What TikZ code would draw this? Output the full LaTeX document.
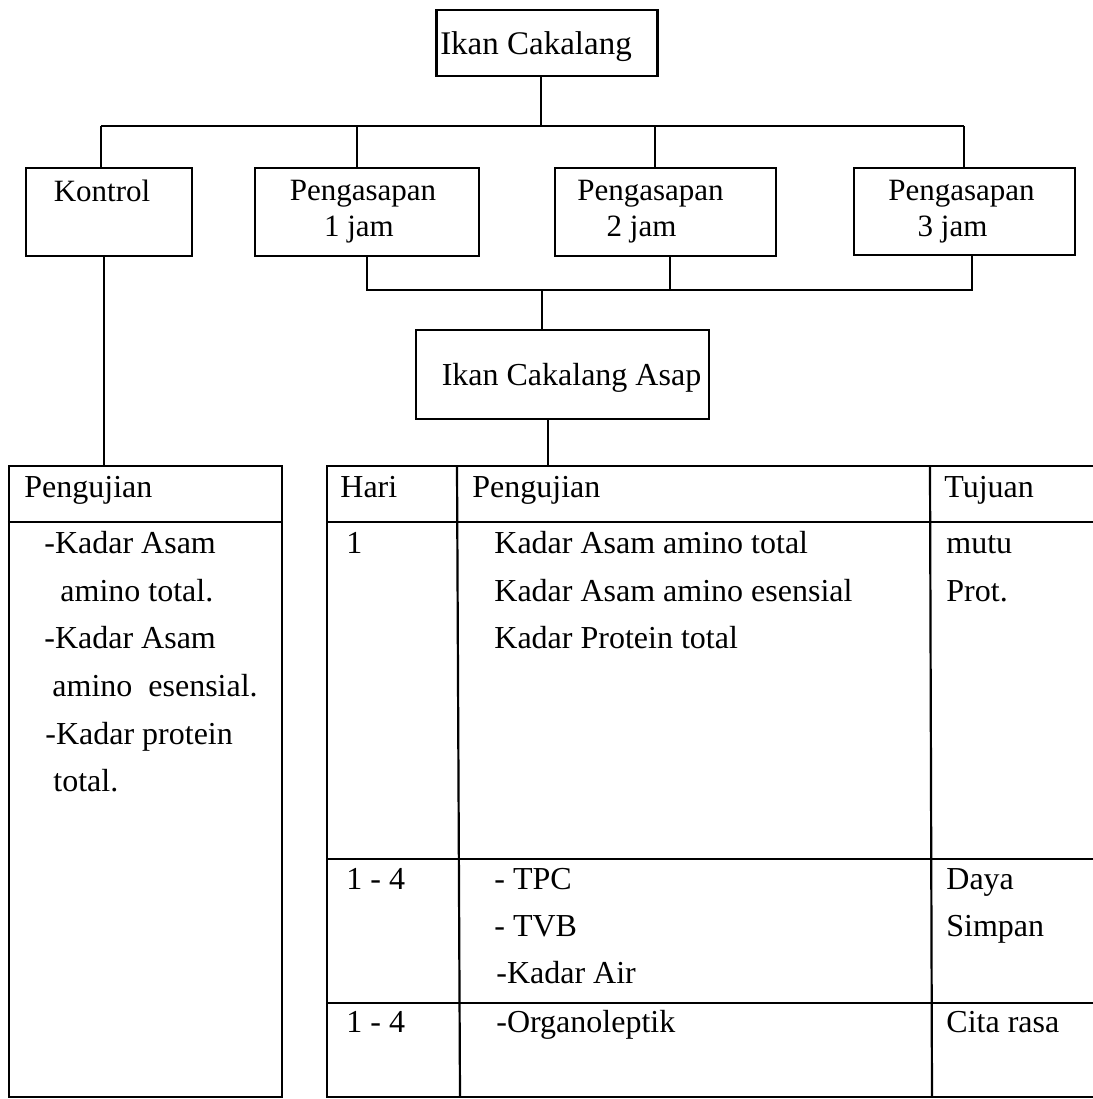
\documentclass[tikz,border=0pt]{standalone}
\usepackage{fontspec}
\setmainfont{Liberation Serif}
\begin{document}
\begin{tikzpicture}[x=0.5pt,y=-0.5pt,
  box/.style={draw, line width=1.4pt, inner sep=0pt, align=center,
    font=\fontsize{15.5}{18}\selectfont},
  onebox/.style={box, text depth=0pt},
  tab/.style={draw, line width=1.1pt, inner sep=0pt},
  rule/.style={line width=1.1pt},
  conn/.style={line width=1pt},
  txt/.style={anchor=base west, inner sep=0pt, font=\fontsize{16}{18}\selectfont}]
\useasboundingbox (0,0) rectangle (1093,1099);

% boxes
\node[onebox, font=\fontsize{16.5}{18}\selectfont, minimum width=221*0.5pt, minimum height=66*0.5pt]
  (top) at (547,43) {Ikan Cakalang\hspace*{11pt}};
\node[box, minimum width=166*0.5pt, minimum height=88*0.5pt]
  (kon) at (109,212) {Kontrol\hspace*{7pt}\\\phantom{1 jam}};
\node[box, minimum width=224*0.5pt, minimum height=88*0.5pt]
  (p1) at (367,212) {Pengasapan\hspace*{4pt}\\1 jam\hspace*{8pt}};
\node[box, minimum width=221*0.5pt, minimum height=88*0.5pt]
  (p2) at (665.5,212) {Pengasapan\hspace*{15pt}\\2 jam\hspace*{24pt}};
\node[box, minimum width=221*0.5pt, minimum height=87*0.5pt]
  (p3) at (964.5,211.5) {Pengasapan\hspace*{3pt}\\3 jam\hspace*{12pt}};
\node[onebox, font=\fontsize{16}{18}\selectfont, minimum width=293*0.5pt, minimum height=89*0.5pt]
  (asap) at (562.5,374.5) {\hspace*{9pt}Ikan Cakalang Asap};

% left table
\node[tab, minimum width=273*0.5pt, minimum height=631*0.5pt] (ltab) at (145.5,781.5) {};
\draw[rule] (ltab.west |- 0,522) -- (ltab.east |- 0,522);

% right table (open on the right edge)
\coordinate (rtl) at (327,466);
\coordinate (rbl) at (327,1097);
\draw[rule] (1093,466) -- (rtl) -- (rbl) -- (1093,1097);
\draw[rule] (327,522) -- (1093,522);
\draw[rule] (327,859) -- (1093,859);
\draw[rule] (327,1003) -- (1093,1003);
\draw[rule] (457,466) -- (460,1097);
\draw[rule] (930,466) -- (932,1097);

% connectors
\coordinate (bx) at (541,126);
\coordinate (bL) at (101,126);
\coordinate (b1) at (357,126);
\coordinate (b2) at (655,126);
\coordinate (bR) at (964,126);
\draw[conn] (top.south -| bx) -- (bx);
\draw[conn] (bL) -- (bR);
\draw[conn] (bL) -- (bL |- kon.north);
\draw[conn] (b1) -- (b1 |- p1.north);
\draw[conn] (b2) -- (b2 |- p2.north);
\draw[conn] (bR) -- (bR |- p3.north);

\coordinate (c1) at (367,290);
\coordinate (c2) at (670,290);
\coordinate (c3) at (972,290);
\coordinate (cx) at (542,290);
\draw[conn] (p1.south -| c1) -- (c1) -- (c3) -- (p3.south -| c3);
\draw[conn] (p2.south -| c2) -- (c2);
\draw[conn] (cx) -- (cx |- asap.north);

\coordinate (ax) at (548,466);
\draw[conn] (asap.south -| ax) -- (ax);
\coordinate (kx) at (104,466);
\draw[conn] (kon.south -| kx) -- (kx);

% left table text
\node[txt] (lh) at (24,497) {Pengujian};
\node[txt] (l1) at (44,553) {-Kadar Asam};
\node[txt] (l2) at (60,601) {amino total.};
\node[txt] (l3) at (44,648) {-Kadar Asam};
\node[txt] (l4) at (52,696) {amino\ \ esensial.};
\node[txt] (l5) at (45,744) {-Kadar protein};
\node[txt] (l6) at (53,791) {total.};

% right table text
\node[txt] (h1) at (340,497) {Hari};
\node[txt] (h2) at (472,497) {Pengujian};
\node[txt] (h3) at (944,497) {Tujuan};

\node[txt] (r1a) at (346,553) {1};
\node[txt] (r1b) at (494,553) {Kadar Asam amino total};
\node[txt] (r1c) at (494,601) {Kadar Asam amino esensial};
\node[txt] (r1d) at (494,648) {Kadar Protein total};
\node[txt] (r1e) at (946,553) {mutu};
\node[txt] (r1f) at (946,601) {Prot.};

\node[txt] (r2a) at (346,889) {1 - 4};
\node[txt] (r2b) at (494,889) {- TPC};
\node[txt] (r2c) at (494,936) {- TVB};
\node[txt] (r2d) at (496,983) {-Kadar Air};
\node[txt] (r2e) at (946,889) {Daya};
\node[txt] (r2f) at (946,936) {Simpan};

\node[txt] (r3a) at (346,1032) {1 - 4};
\node[txt] (r3b) at (496,1032) {-Organoleptik};
\node[txt] (r3c) at (946,1032) {Cita rasa};
\end{tikzpicture}
\end{document}
